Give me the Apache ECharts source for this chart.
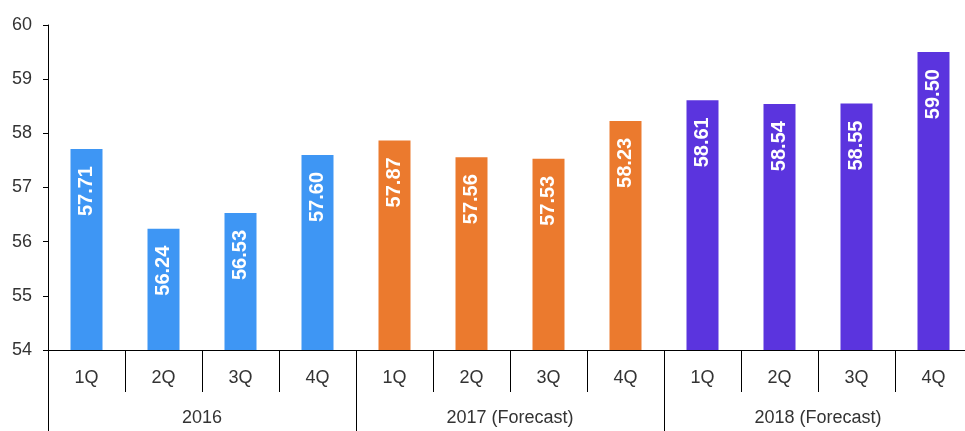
<!DOCTYPE html>
<html>
<head>
<meta charset="utf-8">
<script src="https://cdn.jsdelivr.net/npm/echarts@6/dist/echarts.min.js"></script>
<style>
  html, body { margin: 0; padding: 0; background: #fff; overflow: hidden; }
  #chart_main { width: 972px; height: 431px; }
</style>
</head>
<body>
<div id="chart_main"></div>
<script>
var quarters = ['1Q', '2Q', '3Q', '4Q', '1Q', '2Q', '3Q', '4Q', '1Q', '2Q', '3Q', '4Q']
var years = ['2016', '2017 (Forecast)', '2018 (Forecast)']
var values = [57.71, 56.24, 56.53, 57.60, 57.87, 57.56, 57.53, 58.23, 58.61, 58.54, 58.55, 59.50]
var yearColors = ['#3e96f4', '#eb7a2e', '#5b34de']

var chart = echarts.init(document.getElementById('chart_main'))
var font = 'Liberation Sans, Arial, sans-serif'

// plot runs a little past the right edge of the window, as in the source
chart.setOption({
  animation: false,
  grid: { left: 48, top: 25, right: 0, bottom: 81 },
  yAxis: {
    type: 'value',
    min: 54,
    max: 60,
    interval: 1,
    axisLine: { show: true, lineStyle: { color: '#000', width: 1 } },
    axisTick: { show: true, length: 5, lineStyle: { color: '#000' } },
    splitLine: { show: false },
    axisLabel: { margin: 16, fontSize: 18, color: '#333', fontFamily: font }
  },
  xAxis: [
    {
      type: 'category',
      data: quarters,
      axisLine: { lineStyle: { color: '#000', width: 1 } },
      axisTick: { show: true, length: 42, alignWithLabel: false, lineStyle: { color: '#000' } },
      axisLabel: { margin: 19, fontSize: 18, color: '#333', fontFamily: font }
    },
    {
      type: 'category',
      data: years,
      position: 'bottom',
      axisLine: { show: false },
      axisTick: { show: true, length: 90, alignWithLabel: false, lineStyle: { color: '#000' } },
      axisLabel: { margin: 59, fontSize: 18, color: '#333', fontFamily: font }
    }
  ],
  series: [
    {
      type: 'bar',
      xAxisIndex: 0,
      barWidth: 32,
      data: values,
      itemStyle: {
        color: function (p) { return yearColors[Math.floor(p.dataIndex / 4)] }
      },
      label: {
        show: true,
        position: 'insideTop',
        rotate: 90,
        align: 'right',
        verticalAlign: 'middle',
        distance: 17,
        color: '#fff',
        fontWeight: 'bold',
        fontSize: 20,
        fontFamily: font,
        formatter: function (p) { return p.value.toFixed(2) }
      }
    }
  ]
})
</script>
</body>
</html>
